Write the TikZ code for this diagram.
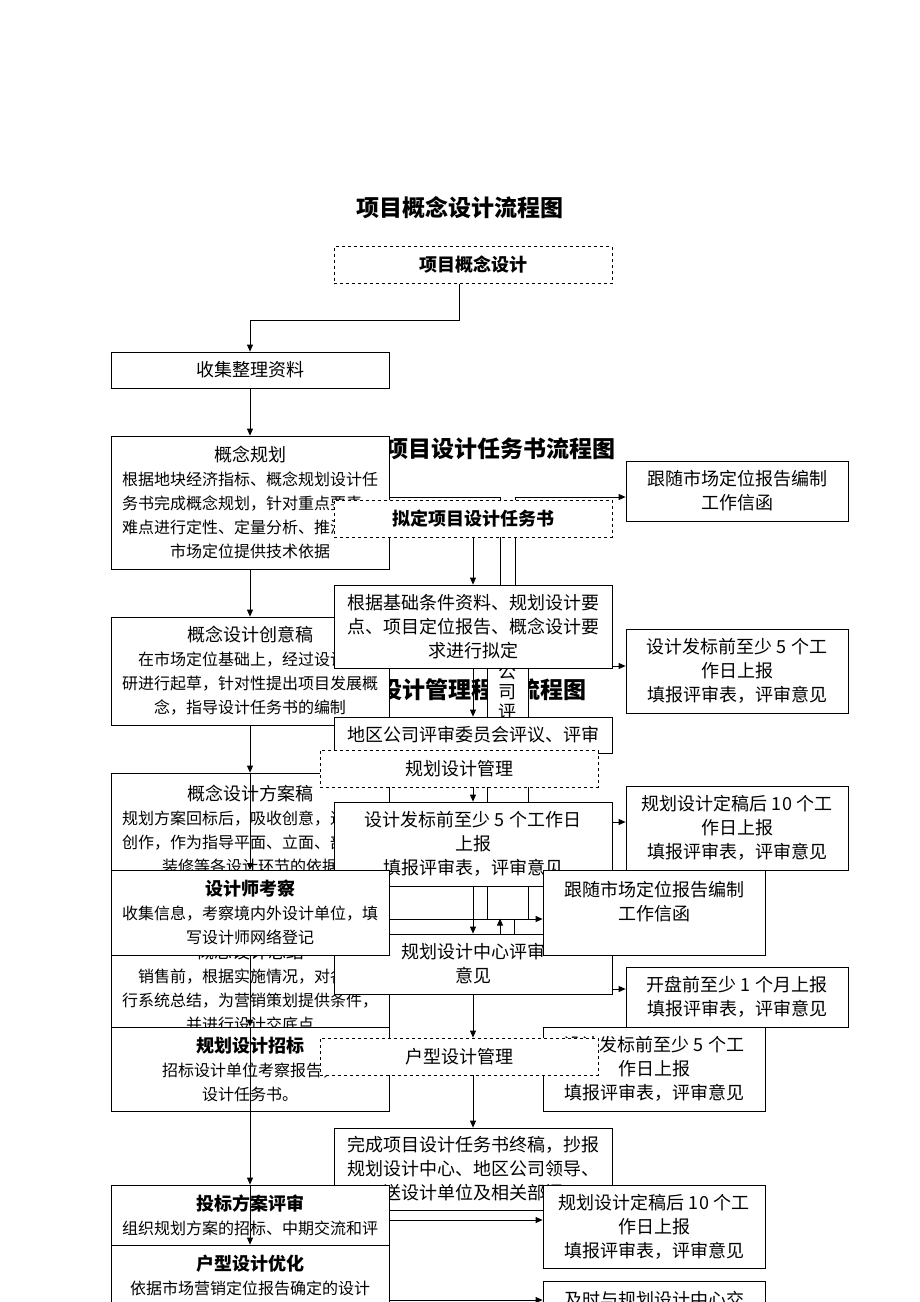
\documentclass[tikz,border=0pt]{standalone}
\usepackage{fontspec}
\setmainfont{Noto Sans CJK SC}
\usetikzlibrary{arrows.meta,positioning}
\newcommand{\boxhead}[1]{{\fontsize{18}{24}\selectfont #1}}
\newcommand{\boxheadb}[1]{{\fontsize{18}{24}\selectfont\bfseries #1}}

\begin{document}
\begin{tikzpicture}[x=1pt,y=-1pt,
        every node/.style={align=center,rectangle,inner sep=0pt},
        box/.style={draw,fill=white,line width=0.8pt,font=\fontsize{18}{24}\selectfont},
        lbox/.style={box,minimum width=278,font=\fontsize{16}{24}\selectfont},
        mbox/.style={box,minimum width=278},
        rbox/.style={box,minimum width=222},
        dbox/.style={mbox,dashed,minimum height=37},
        ttl/.style={font=\fontsize{23}{28}\selectfont\bfseries},
        arr/.style={-{Triangle[length=7pt,width=6pt]},line width=0.8pt}
    ]
    \useasboundingbox[fill=white] (0,0) rectangle (920,1302);

    % titles
    \node[ttl] (title1) at (460,208) {项目概念设计流程图};
    \node[ttl] (title2) at (500,449) {项目设计任务书流程图};
    \node[ttl] (title3) at (460,690) {规划设计管理程序流程图};

    \node[dbox,font=\fontsize{18}{24}\selectfont\bfseries] (start) at (473,265) {项目概念设计};

    \node[mbox,minimum height=82] (final) at (473,1169) {
        完成项目设计任务书终稿，抄报\\
        规划设计中心、地区公司领导、\\
        送设计单位及相关部门
    };

    % left column
    \node[lbox,minimum height=36,font=\fontsize{18}{24}\selectfont] (collect) at (250,370) {收集整理资料};

    \node[lbox,minimum height=133] (plan) at (250,502.5) {
        \boxhead{概念规划}\\
        根据地块经济指标、概念规划设计任\\
        务书完成概念规划，针对重点要素、\\
        难点进行定性、定量分析、推演，为\\
        市场定位提供技术依据
    };

    \node[lbox,minimum height=108] (idea) at (250,671) {
        \boxhead{概念设计创意稿}\\
        在市场定位基础上，经过设计调\\
        研进行起草，针对性提出项目发展概\\
        念，指导设计任务书的编制
    };

    \node[lbox,minimum height=112] (scheme) at (250,829) {
        \boxhead{概念设计方案稿}\\
        规划方案回标后，吸收创意，进行再\\
        创作，作为指导平面、立面、剖面、\\
        装修等各设计环节的依据
    };

    \node[lbox,minimum height=112] (summary) at (250,987) {
        \boxhead{概念设计总结}\\
        销售前，根据实施情况，对各专\\
        行系统总结，为营销策划提供条件，\\
        并进行设计交底点
    };

    \node[lbox,minimum height=84] (bidding) at (250,1069) {
        \boxheadb{规划设计招标}\\
        招标设计单位考察报告，\\
        设计任务书。
    };

    \node[lbox,minimum height=60] (review) at (250,1215) {
        \boxheadb{投标方案评审}\\
        组织规划方案的招标、中期交流和评
    };

    \node[lbox,minimum height=84] (unit) at (250,1287) {
        \boxheadb{户型设计优化}\\
        依据市场营销定位报告确定的设计\\ ~
    };

    \draw[arr] ([xshift=-14pt]start.south) -- ++(0,36) -| (collect.north);
    \draw[arr] (collect.south) -- (plan.north);
    \draw[arr] (plan.south) -- (idea.north);
    \draw[arr] (idea.south) -- (scheme.north);
    \draw[arr] (scheme.north) -- (summary.north |- 0,870);
    \draw[arr] (summary.north |- 0,870) -- (bidding.north);
    \draw[arr] (bidding.north) -- (review.north);
    \draw[arr] (review.north) -- (unit.north);

    % middle column
    \node[box,minimum width=41,minimum height=299] (side) at (507.5,769.5) {};
    \node[font=\fontsize{18}{20}\selectfont] (sidetext) at (507.5,692) {公\\司\\评};

    \node[rbox,minimum height=60] (letter) at (737,491) {
        跟随市场定位报告编制\\
        工作信函
    };
    \draw[line width=0.8pt] (plan.east |- 0,497) -| ([xshift=27pt]final.north |- 0,585);
    \draw[arr] ([xshift=42pt]final.north |- 0,585) |- (letter.west |- 0,497);

    \node[mbox,minimum height=83] (basis) at (473,626.5) {
        根据基础条件资料、规划设计要\\
        点、项目定位报告、概念设计要\\
        求进行拟定
    };
    \node[mbox,minimum height=36] (board) at (473,735) {地区公司评审委员会评议、评审};
    \node[dbox,font=\fontsize{18}{24}\selectfont\bfseries] (draft) at (473,518.5) {拟定项目设计任务书};
    \node[dbox] (planmgmt) at (459,768.5) {规划设计管理};
    \node[mbox,minimum height=84] (report) at (473,844) {
        设计发标前至少 5 个工作日\\
        上报\\
        填报评审表，评审意见
    };

    % right column
    \node[rbox,minimum height=84] (before) at (737,671) {
        设计发标前至少 5 个工\\
        作日上报\\
        填报评审表，评审意见
    };
    \node[rbox,minimum height=84] (after) at (737,828) {
        规划设计定稿后 10 个工\\
        作日上报\\
        填报评审表，评审意见
    };

    \node[mbox,minimum height=60] (center) at (473,964) {
        规划设计中心评审\\
        意见
    };
    \node[rbox,minimum height=85] (letter2) at (654,912.5) {
        跟随市场定位报告编制\\
        工作信函\\ ~
    };
    \node[rbox,minimum height=60] (opening) at (737,997) {
        开盘前至少 1 个月上报\\
        填报评审表，评审意见
    };
    \node[rbox,minimum height=84] (before2) at (654,1069) {
        设计发标前至少 5 个工\\
        作日上报\\
        填报评审表，评审意见
    };
    \node[dbox] (unitmgmt) at (459,1056.5) {户型设计管理};
    \node[rbox,minimum height=83] (after2) at (654,1226.5) {
        规划设计定稿后 10 个工\\
        作日上报\\
        填报评审表，评审意见
    };
    \node[rbox,minimum height=84] (contact) at (654,1323) {
        及时与规划设计中心交\\ ~\\ ~
    };

    \node[lbox,minimum height=85] (visit) at (250,912.5) {
        \boxheadb{设计师考察}\\
        收集信息，考察境内外设计单位，填\\
        写设计师网络登记
    };

    % connectors
    \draw[arr] (draft.south) -- (basis.north);
    \draw[arr] (basis.east |- 0,666) -- (before.west |- 0,666);
    \draw[arr] (basis.south) -- (board.north);
    \draw[arr] (report.north |- planmgmt.south) -- (report.north);
    \draw[arr] (report.east |- 0,822) -- (after.west |- 0,822);
    \draw[arr] (report.south) -- (center.north);
    \draw[arr] (visit.east |- 0,919) -- (letter2.west |- 0,919);
    \draw[line width=0.8pt] ([xshift=41pt]center.north) -- ++(0,-15);
    \draw[arr] ([xshift=27pt]center.north) -- ++(0,-15);
    \draw[arr] (center.east |- 0,989) -- (opening.west |- 0,989);
    \draw[arr] (center.south) -- (center.south |- unitmgmt.north);
    \draw[arr] (final.north |- unitmgmt.south) -- (final.north);
    \draw[arr] (review.east |- 0,1220) -- (after2.west |- 0,1220);
    \draw[arr] (unit.east |- 0,1300) -- (contact.west |- 0,1300);
\end{tikzpicture}
\end{document}
